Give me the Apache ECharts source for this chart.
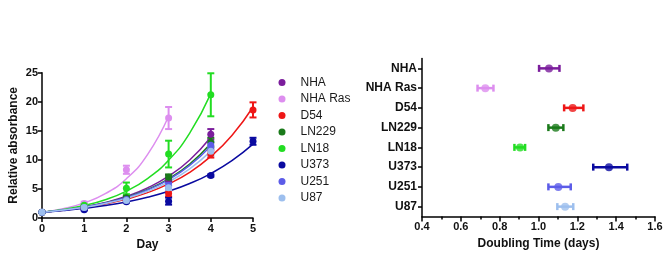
<!DOCTYPE html>
<html><head><meta charset="utf-8">
<script src="https://cdn.jsdelivr.net/npm/echarts@6/dist/echarts.min.js"></script>
<style>html,body{margin:0;padding:0;background:#fff}#c{width:671px;height:261px}</style>
</head><body><div id="c"></div>
<script>
const lines = ['NHA','NHA Ras','D54','LN229','LN18','U373','U251','U87'];
const colors = ['#7b1d9c','#dd8eef','#ee1616','#1a7a1a','#22dd22','#0a0aa0','#5c5ce8','#9dbfee'];
const days = [0,1,2,3,4,5];
// measured means and SDs per day
const meanNHA = [1,1.9,3.4,6.8,14.4];       const sdNHA = [0,0.2,0.4,0.6,0.9];
const meanRas = [1,2.5,8.3,17.2];           const sdRas = [0,0.3,0.7,1.9];
const meanD54 = [1,1.7,3.0,4.2,11.0,18.6];  const sdD54 = [0,0.2,0.3,0.5,0.6,1.3];
const meanLN229 = [1,1.8,3.5,7.0,13.0];     const sdLN229 = [0,0.2,0.3,0.5,0.8];
const meanLN18 = [1,2.2,5.1,11.0,21.2];     const sdLN18 = [0,0.2,1.0,2.3,3.7];
const meanU373 = [1,1.4,2.8,2.9,7.3,13.2];  const sdU373 = [0,0.1,0.2,0.6,0.2,0.6];
const meanU251 = [1,1.8,3.2,5.5,12.5];      const sdU251 = [0,0.2,0.3,0.5,0.6];
const meanU87 = [1,1.8,3.0,5.2,11.5];       const sdU87 = [0,0.2,0.4,0.4,0.8];
// fitted growth curves read at half-day steps
const fitT = [0,0.5,1,1.5,2,2.5,3,3.5,4,4.5,5];
const fitNHA = [1,1.39,1.93,2.68,3.73,5.18,7.19,9.99,13.9];
const fitRas = [1,1.61,2.60,4.19,6.75,10.9,17.5];
const fitD54 = [1,1.34,1.80,2.42,3.25,4.36,5.86,7.87,10.6,14.2,19.1];
const fitLN229 = [1,1.37,1.89,2.60,3.57,4.91,6.75,9.28,12.8];
const fitLN18 = [1,1.47,2.15,3.15,4.63,6.79,9.95,14.6,21.4];
const fitU373 = [1,1.29,1.66,2.14,2.77,3.57,4.60,5.93,7.65,9.86,12.7];
const fitU251 = [1,1.37,1.88,2.57,3.52,4.82,6.60,9.04,12.4];
const fitU87 = [1,1.36,1.84,2.50,3.38,4.59,6.23,8.45,11.5];
// doubling times (days): mean, low, high
const dtMean = [1.054,0.726,1.176,1.089,0.905,1.363,1.102,1.137];
const dtLow  = [1.003,0.686,1.132,1.051,0.876,1.282,1.051,1.097];
const dtHigh = [1.108,0.768,1.231,1.128,0.931,1.457,1.166,1.179];
const xTicksB = [0.4,0.6,0.8,1.0,1.2,1.4,1.6];

const means = [meanNHA,meanRas,meanD54,meanLN229,meanLN18,meanU373,meanU251,meanU87];
const sds = [sdNHA,sdRas,sdD54,sdLN229,sdLN18,sdU373,sdU251,sdU87];
const fits = [fitNHA,fitRas,fitD54,fitLN229,fitLN18,fitU373,fitU251,fitU87];

const series = [];
lines.forEach((name,i)=>{
  series.push({type:'line',name:name+' fit',xAxisIndex:0,yAxisIndex:0,smooth:true,showSymbol:false,
    data:fits[i].map((v,k)=>[fitT[k],v]),lineStyle:{color:colors[i],width:1.5},z:2,silent:true});
});
lines.forEach((name,i)=>{
  series.push({type:'custom',name:name+' err',xAxisIndex:0,yAxisIndex:0,z:3,silent:true,
    data:means[i].map((v,k)=>[days[k],v-sds[i][k],v+sds[i][k]]),
    renderItem:function(params,api){
      const x=api.value(0);
      const lo=api.coord([x,api.value(1)]), hi=api.coord([x,api.value(2)]);
      const w=3.5;
      const st={stroke:colors[i],lineWidth:2};
      return {type:'group',children:[
        {type:'line',shape:{x1:lo[0],y1:lo[1],x2:hi[0],y2:hi[1]},style:st},
        {type:'line',shape:{x1:lo[0]-w,y1:lo[1],x2:lo[0]+w,y2:lo[1]},style:st},
        {type:'line',shape:{x1:hi[0]-w,y1:hi[1],x2:hi[0]+w,y2:hi[1]},style:st}]};
    }});
  series.push({type:'scatter',name:name,xAxisIndex:0,yAxisIndex:0,z:4,symbol:'circle',symbolSize:7,
    itemStyle:{color:colors[i],opacity:1},data:means[i].map((v,k)=>[days[k],v])});
});
// right panel
series.push({type:'custom',name:'dt err',xAxisIndex:1,yAxisIndex:1,z:3,silent:true,
  data:lines.map((n,i)=>[i,dtLow[i],dtHigh[i]]),
  renderItem:function(params,api){
    const idx=api.value(0);
    const lo=api.coord([api.value(1),idx]), hi=api.coord([api.value(2),idx]);
    const h=3.5;
    const st={stroke:colors[idx],lineWidth:2.5};
    return {type:'group',children:[
      {type:'line',shape:{x1:lo[0],y1:lo[1],x2:hi[0],y2:hi[1]},style:st},
      {type:'line',shape:{x1:lo[0],y1:lo[1]-h,x2:lo[0],y2:lo[1]+h},style:st},
      {type:'line',shape:{x1:hi[0],y1:hi[1]-h,x2:hi[0],y2:hi[1]+h},style:st}]};
  }});
series.push({type:'scatter',name:'dt',xAxisIndex:1,yAxisIndex:1,z:4,symbol:'circle',symbolSize:8,
  data:lines.map((n,i)=>({value:[dtMean[i],i],itemStyle:{color:colors[i]}}))});

const axisFont={fontFamily:'Liberation Sans, Arial',fontWeight:'bold',fontSize:11,color:'#111'};
const chart=echarts.init(document.getElementById('c'),null,{renderer:'canvas'});
chart.setOption({
  animation:false,
  backgroundColor:'#fff',
  grid:[{left:42,right:418,top:72.7,bottom:43},{left:422,right:16,top:58.5,bottom:44.5}],
  legend:{orient:'vertical',left:278.5,top:76.5,padding:0,itemWidth:7,itemHeight:7,itemGap:4.5,icon:'circle',
    data:lines,textStyle:{fontFamily:'Liberation Sans, Arial',fontSize:12,color:'#1a1a1a',lineHeight:12,padding:[0,0,0,10]},selectedMode:false},
  xAxis:[
    {type:'value',gridIndex:0,min:0,max:5,interval:1,name:'Day',nameLocation:'middle',nameGap:19,
     nameTextStyle:{fontFamily:'Liberation Sans, Arial',fontWeight:'bold',fontSize:12,color:'#111'},
     axisLine:{show:true,onZero:false,lineStyle:{color:'#000',width:1.5}},axisTick:{show:true,length:4,lineStyle:{color:'#000',width:1.5}},
     axisLabel:Object.assign({margin:5},axisFont),splitLine:{show:false}},
    {type:'value',gridIndex:1,min:0.4,max:1.6,interval:0.2,name:'Doubling Time (days)',nameLocation:'middle',nameGap:20,
     nameTextStyle:{fontFamily:'Liberation Sans, Arial',fontWeight:'bold',fontSize:12,color:'#111'},
     axisLine:{show:true,onZero:false,lineStyle:{color:'#000',width:1.5}},axisTick:{show:true,length:5,lineStyle:{color:'#000',width:1.5}},
     minorTick:{show:true,splitNumber:2,length:3,lineStyle:{color:'#000',width:1.5}},
     axisLabel:Object.assign({margin:5,formatter:v=>v.toFixed(1)},axisFont),splitLine:{show:false}}
  ],
  yAxis:[
    {type:'value',gridIndex:0,min:0,max:25,interval:5,name:'Relative absorbance',nameLocation:'middle',nameGap:22,
     nameTextStyle:{fontFamily:'Liberation Sans, Arial',fontWeight:'bold',fontSize:12,color:'#111'},
     axisLine:{show:true,onZero:false,lineStyle:{color:'#000',width:1.5}},axisTick:{show:true,length:4,lineStyle:{color:'#000',width:1.5}},
     axisLabel:Object.assign({margin:4},axisFont),splitLine:{show:false}},
    {type:'category',gridIndex:1,data:lines,inverse:true,
     axisLine:{show:true,onZero:false,lineStyle:{color:'#000',width:1.5}},axisTick:{show:true,alignWithLabel:true,length:4,lineStyle:{color:'#000',width:1.5}},
     axisLabel:Object.assign({},axisFont,{margin:5,fontSize:12}),splitLine:{show:false}}
  ],
  series:series
});
</script></body></html>
